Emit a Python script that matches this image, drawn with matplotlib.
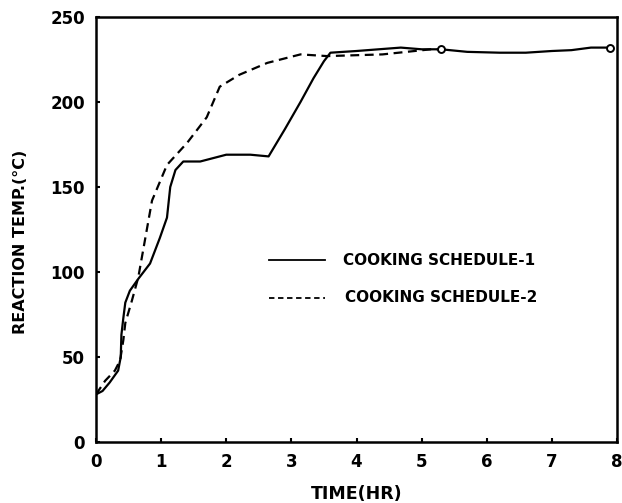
import matplotlib
matplotlib.use("Agg")
import matplotlib.pyplot as plt

# Cooking schedule 1 (solid)
t1 = [0.0, 0.1, 0.21, 0.34, 0.38, 0.39, 0.42, 0.45, 0.52, 0.65, 0.83, 0.98, 1.09, 1.14, 1.22,
      1.34, 1.6, 2.0, 2.37, 2.65, 2.9, 3.14, 3.34, 3.5, 3.6, 4.0, 4.68, 5.0, 5.3, 5.7, 6.2,
      6.6, 7.0, 7.3, 7.6, 7.9]
temp1 = [28, 30, 35, 42, 50, 63, 73, 82, 89, 96, 105, 120, 132, 150, 160,
         165, 165, 169, 169, 168, 184, 200, 214, 224, 229, 230, 232, 231, 231, 229.5, 229,
         229, 230, 230.5, 232, 232]

# Cooking schedule 2 (dashed)
t2 = [0.0, 0.14, 0.29, 0.37, 0.42, 0.45, 0.55, 0.65, 0.72, 0.86, 1.09, 1.4, 1.7, 1.9,
      2.2, 2.63, 3.14, 3.55, 4.4, 5.14, 5.3]
temp2 = [28, 36, 42, 48, 60, 70, 83, 97, 112, 142, 163, 176, 191, 209,
         216, 223, 228, 227, 228, 231, 231]

xticks = [0, 1, 2, 3, 4, 5, 6, 7, 8]
yticks = [0, 50, 100, 150, 200, 250]
xlabel = "TIME(HR)"
ylabel = "REACTION TEMP.(°C)"
labels = ["COOKING SCHEDULE-1", "COOKING SCHEDULE-2"]

plt.rcParams['font.family'] = ['DejaVu Sans']
fig = plt.figure(figsize=(6.22, 5.03), dpi=100)
ax = fig.add_axes([96/622, 61/503, 521/622, 425/503])

ax.plot(t1, temp1, color='black', lw=1.6, solid_joinstyle='round')
ax.plot(t2, temp2, color='black', lw=1.6, dashes=(4, 2.5))
ax.plot([t1[-1]], [temp1[-1]], marker='o', ms=5, mfc='white', mec='black', mew=1.4)
ax.plot([t2[-1]], [temp2[-1]], marker='o', ms=5, mfc='white', mec='black', mew=1.4)

ax.set_xlim(0, 8)
ax.set_ylim(0, 250)
ax.set_xticks(xticks)
ax.set_yticks(yticks)
ax.set_xticklabels([str(v) for v in xticks], fontsize=12, fontweight='bold')
ax.set_yticklabels([str(v) for v in yticks], fontsize=12, fontweight='bold')
ax.tick_params(direction='in', length=3, width=1.5, pad=8)
for s in ax.spines.values():
    s.set_linewidth(1.8)

ax.set_xlabel(xlabel, fontsize=12.5, fontweight='bold', labelpad=10)
ax.set_ylabel(ylabel, fontsize=11.5, fontweight='bold')
ax.yaxis.set_label_coords(-0.13, 0.47)

# legend drawn with line samples and text
ax.plot([2.65, 3.52], [107, 107], color='black', lw=1.3)
ax.plot([2.65, 3.52], [85, 85], color='black', lw=1.3, dashes=(3, 2))
ax.text(3.8, 107, labels[0], fontsize=11, fontweight='bold', va='center')
ax.text(3.83, 85, labels[1], fontsize=11, fontweight='bold', va='center')

fig.savefig("out.png", dpi=100)
